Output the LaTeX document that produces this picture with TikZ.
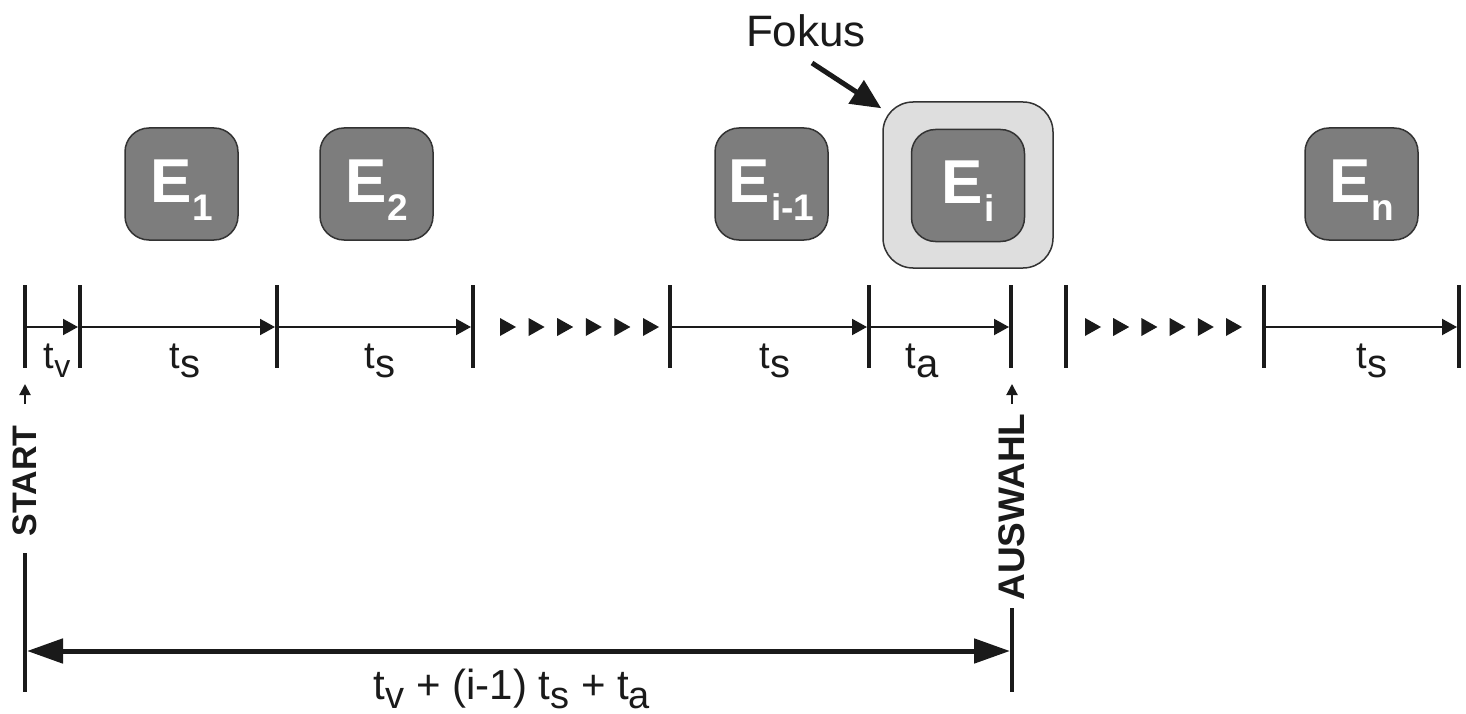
\documentclass[tikz,border=0pt]{standalone}
\usepackage{fontspec}
\setmainfont{Liberation Sans}
\usetikzlibrary{arrows.meta,calc}

\definecolor{boxfill}{HTML}{7D7D7D}
\definecolor{boxline}{HTML}{333333}
\definecolor{focusfill}{HTML}{DEDEDE}
\definecolor{ink}{HTML}{1A1A1A}

% event label: bold E with a lowered index
\newcommand\evlabel[1]{E\kern1pt\raisebox{-18pt}{\fontsize{37}{37}\selectfont #1}}
% time label: t with a lowered index
\newcommand\tlab[2]{t\raisebox{-9pt}{\fontsize{#1}{#1}\selectfont #2}}

\tikzset{
  ebox/.style={draw=boxline, line width=1.5pt, fill=boxfill, rounded corners=24pt,
    minimum width=113pt, minimum height=112pt, inner sep=0pt, text=white,
    font=\fontsize{62}{62}\selectfont\bfseries, text height=48pt, text depth=12pt},
  focusbox/.style={draw=boxline, line width=1.5pt, fill=focusfill, rounded corners=30pt,
    minimum width=170pt, minimum height=166pt, inner sep=0pt},
  tick/.style={draw=ink, line width=4.5pt},
  seg/.style={draw=ink, line width=2pt, shorten >=2pt,
    -{Triangle[length=15pt,width=16pt]}},
  tlabel/.style={anchor=base, inner sep=0pt, text=ink, font=\fontsize{38}{38}\selectfont},
  vlabel/.style={rotate=90, inner sep=0pt, text=ink, font=\fontsize{34}{34}\selectfont\bfseries},
  smallarrow/.style={draw=ink, line width=2pt, -{Triangle[length=11pt,width=11pt]}},
  span/.style={draw=ink, line width=5pt, shorten <=2pt, shorten >=2pt,
    {Triangle[length=36pt,width=24pt]}-{Triangle[length=36pt,width=24pt]}},
  dot/.style={fill=ink},
}

\begin{document}
\begin{tikzpicture}[x=1pt,y=-1pt]
\useasboundingbox (0,0) rectangle (1466,714);
\fill[white] (0,0) rectangle (1466,714);

% event boxes
\node[focusbox] (foc) at (968,185) {};
\node[ebox] (e1)  at (181.5,184) {\evlabel{1}};
\node[ebox] (e2)  at (376.5,184) {\evlabel{2}};
\node[ebox] (ei1) at (771.5,184) {\evlabel{i-1}};
\node[ebox] (ei)  at (968,185.5) {\evlabel{i}};
\node[ebox] (en)  at (1361.5,184) {\evlabel{n}};

% focus marker
\node[inner sep=0pt, text=ink, font=\fontsize{44}{44}\selectfont] (fokus) at (806,31) {Fokus};
\coordinate (ftail) at (812,63);
\draw[draw=ink, line width=5pt, -{Triangle[length=30pt,width=27pt]}]
  (ftail) -- ($(foc.north west)+(-1,7)$);

% time axis: tick positions
\foreach \n/\x in {0/25,1/80,2/277,3/473,4/670,5/869,6/1011,7/1066,8/1264,9/1459}{
  \coordinate (p\n) at (\x,327);
  \draw[tick] (\x,285) -- (\x,368);
}

% interval arrows
\draw[seg] (p0) -- (p1);
\draw[seg] (p1) -- (p2);
\draw[seg] (p2) -- (p3);
\draw[seg] (p4) -- (p5);
\draw[seg] (p5) -- (p6);
\draw[seg] (p8) -- (p9);

% omitted intervals
\foreach \x in {507,535.6,564.2,592.8,621.4,650}{
  \fill[dot] (\x-7,318) -- (\x+9,327) -- (\x-7,336) -- cycle;
}
\foreach \x in {1092,1120.2,1148.4,1176.6,1204.8,1233}{
  \fill[dot] (\x-7,318) -- (\x+9,327) -- (\x-7,336) -- cycle;
}

% interval labels
\node[tlabel] (lv)  at (57,368)   {\tlab{32}{v}};
\node[tlabel] (ls1) at (185,368)  {\tlab{40}{s}};
\node[tlabel] (ls2) at (380,368)  {\tlab{40}{s}};
\node[tlabel] (ls3) at (775,368)  {\tlab{40}{s}};
\node[tlabel] (la)  at (922,368)  {\tlab{40}{a}};
\node[tlabel] (ls4) at (1372,368) {\tlab{40}{s}};

% start and selection markers
\coordinate (sa0) at (25,404);
\coordinate (sa1) at (25,384);
\draw[smallarrow] (sa0) -- (sa1);
\node[vlabel] (start) at (25,481) {START};
\coordinate (s0) at (25,553);
\coordinate (s1) at (25,692);
\draw[tick] (s0) -- (s1);

\coordinate (aa0) at (1012,404);
\coordinate (aa1) at (1012,384);
\draw[smallarrow] (aa0) -- (aa1);
\node[vlabel, font=\fontsize{37}{37}\selectfont\bfseries] (auswahl) at (1012,507) {AUSWAHL};
\coordinate (a0) at (1012,608);
\coordinate (a1) at (1012,692);
\draw[tick] (a0) -- (a1);

% total duration
\coordinate (b0) at (25,651);
\coordinate (b1) at (1012,651);
\draw[span] (b0) -- (b1);
\node[tlabel, font=\fontsize{42}{42}\selectfont] (total) at (512,699)
  {\tlab{38}{v} + (i-1) \tlab{38}{s} + \tlab{38}{a}};
\end{tikzpicture}
\end{document}
